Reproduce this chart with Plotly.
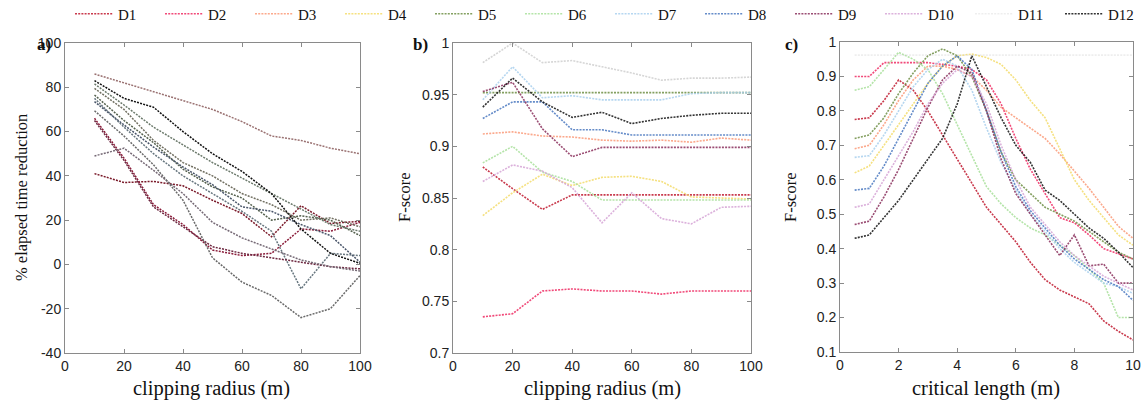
import plotly.graph_objects as go

W, H = 1142, 402

names = ["D1", "D2", "D3", "D4", "D5", "D6", "D7", "D8", "D9", "D10", "D11", "D12"]

colors = ["#c0182e", "#ef2a62", "#fb9a78", "#f4dc6a", "#6f8f45", "#a8e09a",
          "#a9d0ee", "#4a78c0", "#8a2f5c", "#d6a4d6", "#cfcfcf", "#111111"]
dark_colors = ["#7a1a2a", "#8a1c3a", "#9a7272", "#727062", "#55614e", "#6c7a6c",
               "#67767f", "#4a566a", "#6d2840", "#766a76", "#6a6a6a", "#111111"]

radius = [10, 20, 30, 40, 50, 60, 70, 80, 90, 100]
crit_len = [0.5, 1, 1.5, 2, 2.5, 3, 3.5, 4, 4.5, 5, 5.5, 6, 6.5, 7, 7.5, 8, 8.5, 9, 9.5, 10]

# panel a: % elapsed time reduction vs clipping radius
a_d1 = [41, 37, 37.5, 35.5, 29, 23, 12.5, 26.5, 18.5, 19.5]
a_d2 = [66, 48, 27, 18, 6.5, 4, 5, 16, 15, 19]
a_d3 = [86, 82, 78, 74, 70, 64.5, 58, 56, 52.5, 50]
a_d4 = [79.5, 70, 56, 46, 40, 32, 27, 20, 21, 17]
a_d5 = [76.5, 65, 55, 43, 35, 30, 20, 22, 20, 13]
a_d6 = [81.5, 72, 62, 54, 46, 39, 32, 25, 18, 15]
a_d7 = [75, 62, 50, 40, 32, 24, 15, -11, 5, 4]
a_d8 = [73.5, 63, 53, 44, 36, 26, 24, 18, 13, 1]
a_d9 = [65, 47, 26, 17, 8, 5, 3, 1, -1, -2]
a_d10 = [49, 52.5, 42.5, 32, 19, 12, 7, 2, -1, -3]
a_d11 = [69.4, 58, 45, 29, 3, -8, -14, -24, -20, -5]
a_d12 = [83, 75, 71, 60, 50, 42, 32, 16, 5, 0.5]

# panel b: F-score vs clipping radius
b_d1 = [0.880, 0.859, 0.839, 0.853, 0.853, 0.853, 0.853, 0.853, 0.853, 0.853]
b_d2 = [0.735, 0.738, 0.760, 0.762, 0.760, 0.760, 0.757, 0.760, 0.760, 0.760]
b_d3 = [0.912, 0.914, 0.910, 0.909, 0.906, 0.905, 0.906, 0.904, 0.908, 0.906]
b_d4 = [0.833, 0.855, 0.873, 0.862, 0.870, 0.871, 0.866, 0.851, 0.850, 0.849]
b_d5 = [0.952, 0.952, 0.952, 0.952, 0.952, 0.952, 0.952, 0.952, 0.952, 0.952]
b_d6 = [0.884, 0.900, 0.875, 0.866, 0.848, 0.848, 0.848, 0.848, 0.848, 0.848]
b_d7 = [0.945, 0.977, 0.947, 0.949, 0.945, 0.945, 0.945, 0.951, 0.952, 0.952]
b_d8 = [0.927, 0.943, 0.943, 0.916, 0.916, 0.911, 0.911, 0.911, 0.911, 0.911]
b_d9 = [0.953, 0.962, 0.917, 0.890, 0.899, 0.899, 0.899, 0.899, 0.899, 0.899]
b_d10 = [0.866, 0.882, 0.876, 0.860, 0.826, 0.855, 0.830, 0.825, 0.841, 0.842]
b_d11 = [0.981, 1.000, 0.981, 0.983, 0.977, 0.971, 0.964, 0.966, 0.966, 0.967]
b_d12 = [0.938, 0.966, 0.943, 0.928, 0.933, 0.922, 0.927, 0.930, 0.932, 0.932]

# panel c: F-score vs critical length
c_d1 = [0.775, 0.78, 0.83, 0.89, 0.86, 0.80, 0.73, 0.66, 0.59, 0.52, 0.47, 0.42, 0.36, 0.31, 0.28, 0.26, 0.24, 0.19, 0.16, 0.135]
c_d2 = [0.90, 0.90, 0.94, 0.94, 0.94, 0.94, 0.935, 0.93, 0.92, 0.89, 0.82, 0.72, 0.63, 0.56, 0.49, 0.475, 0.44, 0.40, 0.385, 0.37]
c_d3 = [0.69, 0.70, 0.76, 0.83, 0.89, 0.93, 0.93, 0.92, 0.90, 0.86, 0.81, 0.78, 0.75, 0.72, 0.675, 0.625, 0.575, 0.52, 0.465, 0.43]
c_d4 = [0.62, 0.64, 0.70, 0.76, 0.82, 0.88, 0.93, 0.96, 0.965, 0.955, 0.935, 0.89, 0.83, 0.78, 0.69, 0.60, 0.54, 0.49, 0.44, 0.41]
c_d5 = [0.72, 0.73, 0.78, 0.85, 0.91, 0.96, 0.98, 0.96, 0.90, 0.80, 0.68, 0.60, 0.56, 0.52, 0.50, 0.48, 0.45, 0.42, 0.39, 0.37]
c_d6 = [0.86, 0.87, 0.92, 0.97, 0.95, 0.92, 0.85, 0.76, 0.67, 0.58, 0.53, 0.49, 0.46, 0.44, 0.41, 0.38, 0.34, 0.30, 0.20, 0.20]
c_d7 = [0.665, 0.67, 0.73, 0.80, 0.87, 0.92, 0.95, 0.93, 0.86, 0.75, 0.65, 0.57, 0.50, 0.45, 0.40, 0.36, 0.33, 0.30, 0.29, 0.27]
c_d8 = [0.57, 0.575, 0.64, 0.72, 0.80, 0.88, 0.93, 0.96, 0.92, 0.80, 0.68, 0.58, 0.51, 0.46, 0.41, 0.37, 0.34, 0.31, 0.29, 0.25]
c_d9 = [0.47, 0.48, 0.55, 0.63, 0.72, 0.81, 0.89, 0.93, 0.91, 0.80, 0.66, 0.56, 0.50, 0.44, 0.38, 0.44, 0.35, 0.355, 0.30, 0.30]
c_d10 = [0.52, 0.53, 0.60, 0.67, 0.74, 0.82, 0.88, 0.92, 0.90, 0.82, 0.70, 0.60, 0.52, 0.47, 0.42, 0.38, 0.35, 0.32, 0.30, 0.28]
c_d11 = [0.962, 0.962, 0.963, 0.963, 0.963, 0.963, 0.963, 0.963, 0.962, 0.962, 0.962, 0.962, 0.962, 0.962, 0.962, 0.962, 0.962, 0.962, 0.962, 0.962]
c_d12 = [0.43, 0.44, 0.49, 0.54, 0.60, 0.66, 0.72, 0.82, 0.96, 0.87, 0.78, 0.70, 0.65, 0.57, 0.54, 0.50, 0.46, 0.43, 0.39, 0.345]

a_series = [a_d1, a_d2, a_d3, a_d4, a_d5, a_d6, a_d7, a_d8, a_d9, a_d10, a_d11, a_d12]
b_series = [b_d1, b_d2, b_d3, b_d4, b_d5, b_d6, b_d7, b_d8, b_d9, b_d10, b_d11, b_d12]
c_series = [c_d1, c_d2, c_d3, c_d4, c_d5, c_d6, c_d7, c_d8, c_d9, c_d10, c_d11, c_d12]

a_yticks = [-40, -20, 0, 20, 40, 60, 80, 100]
a_ytext = ["-40", "-20", "0", "20", "40", "60", "80", "100"]
b_yticks = [0.7, 0.75, 0.8, 0.85, 0.9, 0.95, 1.0]
b_ytext = ["0.7", "0.75", "0.8", "0.85", "0.9", "0.95", "1"]
c_yticks = [0.1, 0.2, 0.3, 0.4, 0.5, 0.6, 0.7, 0.8, 0.9, 1.0]
c_ytext = ["0.1", "0.2", "0.3", "0.4", "0.5", "0.6", "0.7", "0.8", "0.9", "1"]

SERIF = "Liberation Serif, Times New Roman, serif"
SANS = "Liberation Sans, Arial, sans-serif"
DASH = "2px,1.2px"

fig = go.Figure()

for i, n in enumerate(names):
    op = 0.35 if n == "D11" else 0.85
    fig.add_trace(go.Scatter(x=crit_len, y=c_series[i], mode="lines", name=n,
                             line=dict(color=colors[i], width=1.6, dash=DASH),
                             opacity=op, xaxis="x3", yaxis="y3",
                             legendgroup=n, showlegend=True))
for i, n in enumerate(names):
    fig.add_trace(go.Scatter(x=radius, y=b_series[i], mode="lines", name=n,
                             line=dict(color=colors[i], width=1.6, dash=DASH),
                             opacity=0.85, xaxis="x2", yaxis="y2",
                             legendgroup=n, showlegend=False))
for i, n in enumerate(names):
    fig.add_trace(go.Scatter(x=radius, y=a_series[i], mode="lines", name=n,
                             line=dict(color=dark_colors[i], width=1.5, dash=DASH),
                             xaxis="x", yaxis="y",
                             legendgroup=n, showlegend=False))

def px_x(p):
    return p / W

def px_y(p):
    return 1 - p / H

axis_common = dict(showline=True, linecolor="#8a8a8a", linewidth=1, mirror="ticks",
                   ticks="inside", ticklen=4, tickcolor="#8a8a8a", showgrid=False,
                   zeroline=False, automargin=False, ticklabeloverflow="allow",
                   tickfont=dict(family=SANS, size=14, color="#222"))

ydom = [px_y(353), px_y(43)]
fig.update_layout(
    xaxis=dict(domain=[px_x(65), px_x(360)], range=[0, 100], tickvals=[0, 20, 40, 60, 80, 100],
               anchor="y", **axis_common),
    yaxis=dict(domain=ydom, range=[-40, 100], tickvals=a_yticks, ticktext=a_ytext,
               anchor="x", **axis_common),
    xaxis2=dict(domain=[px_x(453), px_x(751)], range=[0, 100], tickvals=[0, 20, 40, 60, 80, 100],
                anchor="y2", **axis_common),
    yaxis2=dict(domain=ydom, range=[0.7, 1.0], tickvals=b_yticks, ticktext=b_ytext,
                anchor="x2", **axis_common),
    xaxis3=dict(domain=[px_x(840), px_x(1133)], range=[0, 10], tickvals=[0, 2, 4, 6, 8, 10],
                anchor="y3", **axis_common),
    yaxis3=dict(domain=[px_y(352), px_y(42)], range=[0.1, 1.0], tickvals=c_yticks, ticktext=c_ytext,
                anchor="x3", **axis_common),
)

annotations = []
for txt, cx in [("clipping radius (m)", 212), ("clipping radius (m)", 602), ("critical length (m)", 986)]:
    annotations.append(dict(text=txt, x=px_x(cx), y=px_y(388), xref="paper", yref="paper",
                            showarrow=False, xanchor="center", yanchor="middle",
                            font=dict(family=SERIF, size=20.5, color="#111")))
for txt, cx in [("% elapsed time reduction", 21), ("F-score", 404), ("F-score", 790)]:
    annotations.append(dict(text=txt, x=px_x(cx), y=px_y(198), xref="paper", yref="paper",
                            showarrow=False, textangle=-90, xanchor="center", yanchor="middle",
                            font=dict(family=SERIF, size=16.5, color="#111")))
for txt, cx in [("<b>a)</b>", 44), ("<b>b)</b>", 420), ("<b>c)</b>", 791)]:
    annotations.append(dict(text=txt, x=px_x(cx), y=px_y(45), xref="paper", yref="paper",
                            showarrow=False, xanchor="center", yanchor="middle",
                            font=dict(family=SERIF, size=17, color="#111")))

fig.update_layout(
    width=W, height=H,
    template="none",
    paper_bgcolor="white", plot_bgcolor="white",
    margin=dict(l=0, r=0, t=0, b=0, autoexpand=False),
    annotations=annotations,
    legend=dict(orientation="h", x=px_x(70), y=px_y(14), xanchor="left", yanchor="middle",
                font=dict(family=SERIF, size=15, color="#111"),
                entrywidth=37, entrywidthmode="pixels", itemwidth=38,
                tracegroupgap=0, bgcolor="rgba(0,0,0,0)"),
)

fig.write_html("out.html", config={"displayModeBar": False},
               post_script="document.body.style.margin='0';document.body.style.overflow='hidden';")
